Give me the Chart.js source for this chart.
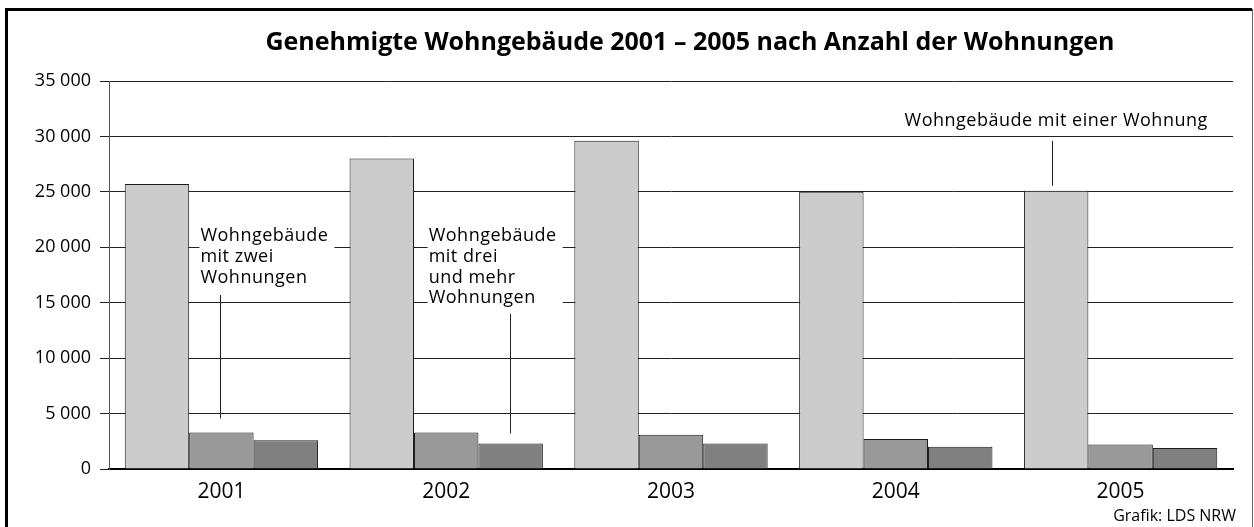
<!DOCTYPE html>
<html>
<head>
<meta charset="utf-8">
<script src="https://cdn.jsdelivr.net/npm/chart.js@4"></script>
<style>
  body { margin: 0; background: #fff; }
</style>
</head>
<body>
<canvas id="wohnChart" width="1254" height="527"></canvas>
<script>
// data
const years = ['2001', '2002', '2003', '2004', '2005'];
const einerWohnung = [25700, 28000, 29600, 25000, 25100];
const zweiWohnungen = [3300, 3300, 3100, 2700, 2200];
const dreiUndMehr = [2600, 2300, 2300, 2000, 1900];
const yMax = 35000;
const yStep = 5000;

const titleText = 'Genehmigte Wohngebäude 2001 – 2005 nach Anzahl der Wohnungen';
const sourceText = 'Grafik: LDS NRW';
const FONT = '"Open Sans", "DejaVu Sans", sans-serif';

// frame + title + source
const framePlugin = {
  id: 'frame',
  beforeDraw(chart) {
    const c = chart.ctx;
    c.save();
    c.fillStyle = '#fff';
    c.fillRect(0, 0, chart.width, chart.height);
    c.strokeStyle = '#000';
    c.lineWidth = 3;
    c.beginPath();
    c.moveTo(6.5, chart.height + 2);
    c.lineTo(6.5, 9.5);
    c.lineTo(1252, 9.5);
    c.stroke();
    c.strokeStyle = '#666';
    c.lineWidth = 1;
    c.beginPath();
    c.moveTo(1252.5, 9);
    c.lineTo(1252.5, chart.height + 2);
    c.stroke();
    c.restore();
  },
  afterDraw(chart) {
    const c = chart.ctx;
    c.save();
    c.fillStyle = '#000';
    c.font = 'bold 25px ' + FONT;
    c.textAlign = 'center';
    c.textBaseline = 'middle';
    c.fillText(titleText, 690, 43);
    c.font = '16px ' + FONT;
    c.textAlign = 'right';
    c.fillText(sourceText, 1236, 516);
    c.restore();
  }
};

// labels with leader lines
const labelPlugin = {
  id: 'labels',
  afterDatasetsDraw(chart) {
    const c = chart.ctx;
    const y = chart.scales.y;
    const lh = 20.7;
    c.save();
    c.font = '18px ' + FONT;
    c.letterSpacing = '0.5px';
    c.textBaseline = 'middle';

    function block(lines, left, top) {
      let w = 0;
      lines.forEach(l => { w = Math.max(w, c.measureText(l).width); });
      c.fillStyle = '#fff';
      c.fillRect(left - 1, top - 11, w + 7, lines.length * lh + 2);
      c.fillStyle = '#000';
      c.textAlign = 'left';
      lines.forEach((l, i) => c.fillText(l, left, top + i * lh));
    }
    function leader(x, y1, y2) {
      c.strokeStyle = '#222';
      c.lineWidth = 1;
      c.beginPath();
      c.moveTo(Math.round(x) + 0.5, y1);
      c.lineTo(Math.round(x) + 0.5, y2);
      c.stroke();
    }

    // einer Wohnung (2005)
    const b1 = chart.getDatasetMeta(0).data[4];
    c.fillStyle = '#000';
    c.textAlign = 'center';
    c.fillText('Wohngebäude mit einer Wohnung', b1.x, y.getPixelForValue(31400));
    leader(b1.x - 4, y.getPixelForValue(29600), b1.y - 5);

    // zwei Wohnungen (2001)
    const b2 = chart.getDatasetMeta(1).data[0];
    block(['Wohngebäude', 'mit zwei', 'Wohnungen'], b2.x - 21, y.getPixelForValue(21000));
    leader(b2.x - 1, y.getPixelForValue(15700), b2.y - 14);

    // drei und mehr (2002)
    const b3 = chart.getDatasetMeta(2).data[1];
    block(['Wohngebäude', 'mit drei', 'und mehr', 'Wohnungen'], b3.x - 82, y.getPixelForValue(21000));
    leader(b3.x - 1, y.getPixelForValue(14000), b3.y - 10);

    c.restore();
  }
};

const ctx = document.getElementById('wohnChart').getContext('2d');

new Chart(ctx, {
  type: 'bar',
  data: {
    labels: years,
    datasets: [
      {
        label: 'Wohngebäude mit einer Wohnung',
        data: einerWohnung,
        backgroundColor: '#cccccc',
        borderColor: '#1a1a1a',
        borderWidth: 1
      },
      {
        label: 'Wohngebäude mit zwei Wohnungen',
        data: zweiWohnungen,
        backgroundColor: '#999999',
        borderColor: '#1a1a1a',
        borderWidth: 1
      },
      {
        label: 'Wohngebäude mit drei und mehr Wohnungen',
        data: dreiUndMehr,
        backgroundColor: '#808080',
        borderColor: '#1a1a1a',
        borderWidth: 1
      }
    ]
  },
  options: {
    responsive: false,
    animation: false,
    categoryPercentage: 0.86,
    barPercentage: 1.0,
    layout: {
      padding: { top: 81, right: 21, left: 0, bottom: 0 }
    },
    plugins: {
      legend: { display: false },
      tooltip: { enabled: false },
      title: { display: false }
    },
    scales: {
      x: {
        grid: { display: false, drawTicks: false },
        border: { color: '#000', width: 2 },
        ticks: {
          color: '#000',
          padding: 10,
          font: { family: FONT, size: 21 }
        },
        afterFit(scale) { scale.height = 58; }
      },
      y: {
        min: 0,
        max: yMax,
        grid: { color: '#222', lineWidth: 1, tickLength: 9 },
        border: { color: '#555', width: 1 },
        ticks: {
          stepSize: yStep,
          color: '#000',
          padding: 9,
          font: { family: FONT, size: 18 },
          callback: v => String(v).replace(/\B(?=(\d{3})+(?!\d))/g, ' ')
        },
        afterFit(scale) { scale.width = 109; }
      }
    }
  },
  plugins: [framePlugin, labelPlugin]
});
</script>
</body>
</html>
